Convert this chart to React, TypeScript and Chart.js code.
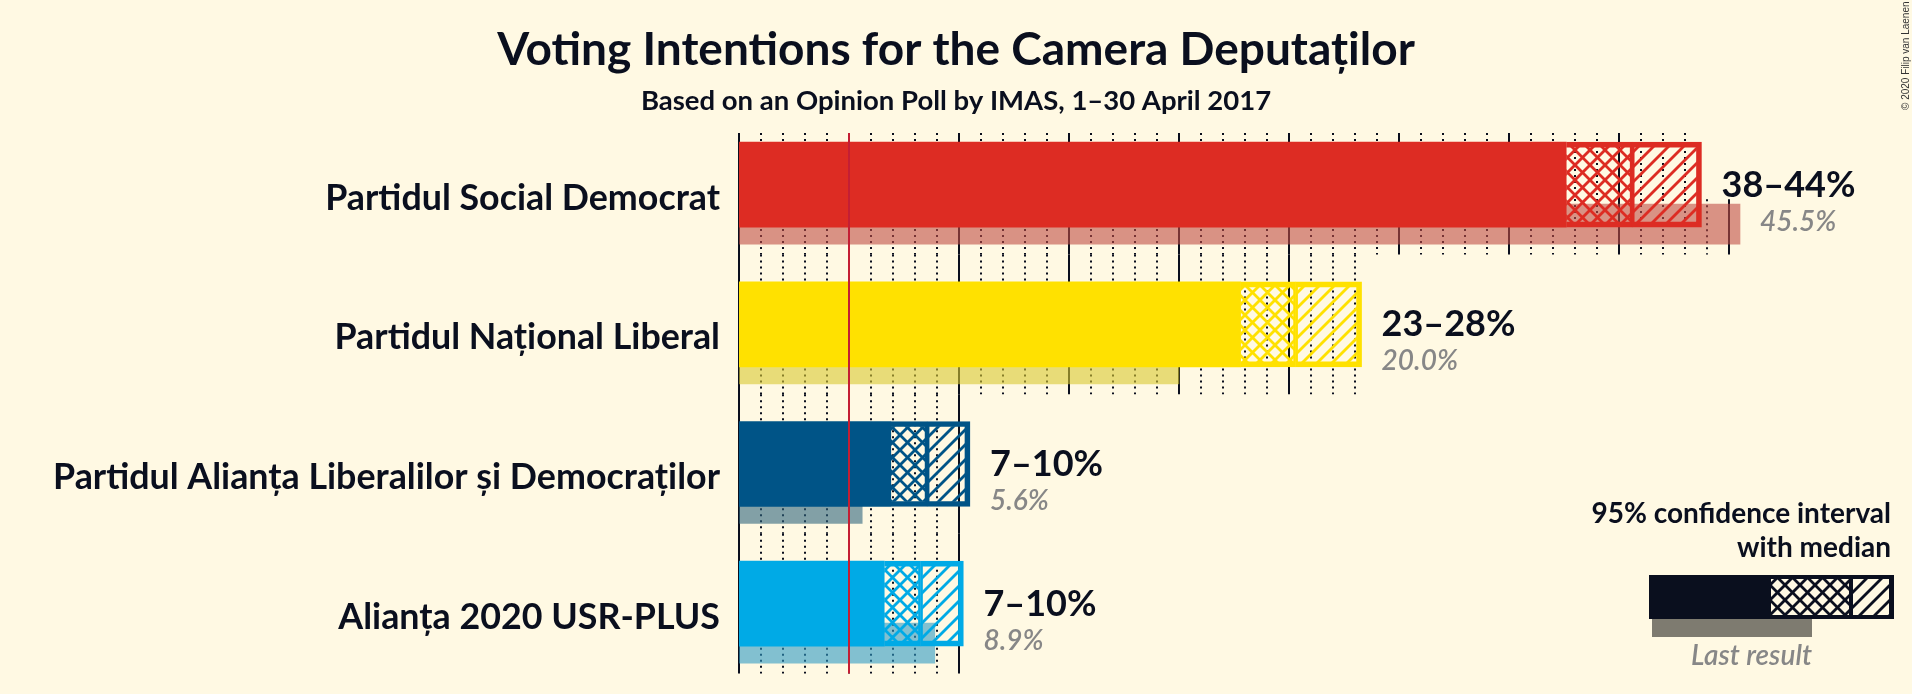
import React, { useEffect, useRef } from 'react';
import { Chart, registerables } from 'chart.js';

Chart.register(...registerables);

// ---------- data ----------
const parties = [
  'Partidul Social Democrat',
  'Partidul Național Liberal',
  'Partidul Alianța Liberalilor și Democraților',
  'Alianța 2020 USR-PLUS',
];
const ciLow = [37.6, 22.8, 6.9, 6.6];
const median = [40.6, 25.3, 8.55, 8.25];
const ciHigh = [43.75, 28.3, 10.5, 10.2];
const lastResult = [45.5, 20.0, 5.6, 8.9];
const rangeLabels = ['38–44%', '23–28%', '7–10%', '7–10%'];
const lastLabels = ['45.5%', '20.0%', '5.6%', '8.9%'];
const partyColors = ['#DD2C23', '#FFE100', '#005487', '#00AAE6'];
const lastColors = [
  'rgba(192,77,68,0.6)',
  'rgba(217,200,48,0.6)',
  'rgba(47,100,125,0.6)',
  'rgba(47,153,195,0.6)',
];
const threshold = 5;
const xMax = 50;
const titleText = 'Voting Intentions for the Camera Deputaților';
const subtitleText = 'Based on an Opinion Poll by IMAS, 1–30 April 2017';
const legendTitle = ['95% confidence interval', 'with median'];
const legendLast = 'Last result';
const copyright = '© 2020 Filip van Laenen';

// ---------- style ----------
const BG = '#FFF9E3';
const INK = '#0A0F1E';
const GREY_TEXT = '#878787';
const FONT = 'Lato, "Noto Sans", sans-serif';
const MAIN_THICK = 85;
const LAST_THICK = 40;
const LAST_OFFSET = 0.283;

function makePattern(color: string, cross: boolean): CanvasPattern | string {
  const s = 15;
  const c = document.createElement('canvas');
  c.width = s;
  c.height = s;
  const g = c.getContext('2d');
  if (!g) return color;
  g.strokeStyle = color;
  g.lineWidth = 2.8;
  g.lineCap = 'square';
  for (const k of [0, s, 2 * s]) {
    g.beginPath();
    g.moveTo(-5, k + 5);
    g.lineTo(k + 5, -5);
    g.stroke();
  }
  if (cross) {
    for (const k of [-s, 0, s]) {
      g.beginPath();
      g.moveTo(-5, -5 - k);
      g.lineTo(s + 5, s + 5 - k);
      g.stroke();
    }
  }
  const p = g.createPattern(c, 'repeat');
  return p || color;
}

export default function App() {
  const ref = useRef<HTMLCanvasElement | null>(null);

  useEffect(() => {
    const canvas = ref.current;
    if (!canvas) return;
    const rows = parties.map((_, i) => i);
    const crossPatterns = partyColors.map((c) => makePattern(c, true));
    const diagPatterns = partyColors.map((c) => makePattern(c, false));
    const legendCross = makePattern(INK, true);
    const legendDiag = makePattern(INK, false);

    const bgPlugin = {
      id: 'bg',
      beforeDraw(chart: any) {
        const { ctx, width, height } = chart;
        ctx.save();
        ctx.fillStyle = BG;
        ctx.fillRect(0, 0, width, height);
        ctx.restore();
      },
    };

    const gridPlugin = {
      id: 'rowGrid',
      beforeDatasetsDraw(chart: any) {
        const { ctx, chartArea } = chart;
        const xs = chart.scales.x;
        const ys = chart.scales.y;
        ctx.save();
        ctx.strokeStyle = INK;
        ctx.lineWidth = 2;
        const line = (p: number, y0: number, y1: number) => {
          const px = Math.round(xs.getPixelForValue(p));
          ctx.setLineDash(p % 5 === 0 ? [] : [2, 4]);
          ctx.beginPath();
          ctx.moveTo(px, y0);
          ctx.lineTo(px, y1);
          ctx.stroke();
        };
        rows.forEach((i) => {
          const top = Math.max(chartArea.top, ys.getPixelForValue(i - 0.5));
          const bottom = Math.min(chartArea.bottom, ys.getPixelForValue(i + 0.5));
          const lastTop = ys.getPixelForValue(i + LAST_OFFSET) - LAST_THICK / 2 - 5;
          const hiInt = Math.floor(ciHigh[i]);
          const lastInt = Math.floor(lastResult[i]);
          for (let p = 1; p <= Math.max(hiInt, lastInt); p++) {
            line(p, p <= hiInt ? top : lastTop, bottom);
          }
        });
        line(0, chartArea.top, chartArea.bottom);
        ctx.restore();
      },
    };

    const overlayPlugin = {
      id: 'overlay',
      afterDatasetsDraw(chart: any) {
        const { ctx, chartArea } = chart;
        const xs = chart.scales.x;
        const ys = chart.scales.y;
        ctx.save();
        // threshold line
        const tx = Math.round(xs.getPixelForValue(threshold));
        ctx.strokeStyle = '#C41E34';
        ctx.lineWidth = 2;
        ctx.beginPath();
        ctx.moveTo(tx, chartArea.top);
        ctx.lineTo(tx, chartArea.bottom);
        ctx.stroke();

        rows.forEach((i) => {
          const cy = ys.getPixelForValue(i);
          // party name
          ctx.fillStyle = INK;
          ctx.font = `bold 35.8px ${FONT}`;
          ctx.textAlign = 'right';
          ctx.textBaseline = 'alphabetic';
          ctx.fillText(parties[i], chartArea.left - 19, cy + 25);
          // range label
          const hx = xs.getPixelForValue(ciHigh[i]);
          const lx = xs.getPixelForValue(lastResult[i]);
          ctx.textAlign = 'left';
          ctx.font = `bold 36px ${FONT}`;
          ctx.fillText(rangeLabels[i], hx + 20, cy + 12);
          ctx.fillStyle = GREY_TEXT;
          ctx.font = `italic 600 28px ${FONT}`;
          ctx.fillText(lastLabels[i], Math.max(hx, lx) + 20, cy + 46);
        });
        ctx.restore();
      },
      afterDraw(chart: any) {
        const { ctx, width } = chart;
        ctx.save();
        // titles
        ctx.fillStyle = INK;
        ctx.textAlign = 'center';
        ctx.textBaseline = 'alphabetic';
        ctx.font = `bold 46px ${FONT}`;
        ctx.fillText(titleText, width / 2, 65);
        ctx.font = `bold 27.5px ${FONT}`;
        ctx.fillText(subtitleText, width / 2, 110);

        // legend
        ctx.textAlign = 'right';
        ctx.font = `bold 28px ${FONT}`;
        ctx.fillText(legendTitle[0], 1891, 523);
        ctx.fillText(legendTitle[1], 1891, 557);
        const lt = 575, lb = 619;
        ctx.fillStyle = INK;
        ctx.fillRect(1649, lt, 1771 - 1649, lb - lt);
        ctx.fillStyle = legendCross as any;
        ctx.fillRect(1771, lt, 1851 - 1771, lb - lt);
        ctx.fillStyle = legendDiag as any;
        ctx.fillRect(1851, lt, 1894 - 1851, lb - lt);
        ctx.fillStyle = INK;
        ctx.fillRect(1771, lt, 1894 - 1771, 4);
        ctx.fillRect(1771, lb - 4, 1894 - 1771, 4);
        ctx.fillRect(1889, lt, 5, lb - lt);
        ctx.fillRect(1849, lt, 4, lb - lt);
        ctx.fillStyle = '#7E7B70';
        ctx.fillRect(1652, lb, 1812 - 1652, 18);
        ctx.fillStyle = GREY_TEXT;
        ctx.font = `italic 600 28px ${FONT}`;
        ctx.fillText(legendLast, 1812, 665);

        // copyright
        ctx.translate(1909, 110);
        ctx.rotate(-Math.PI / 2);
        ctx.textAlign = 'left';
        ctx.fillStyle = '#333333';
        ctx.font = '10px "Liberation Sans", Arial, sans-serif';
        ctx.fillText(copyright, 0, 0);
        ctx.restore();
      },
    };

    const common = { grouped: false, borderSkipped: false as any };

    const chart = new Chart(canvas, {
      type: 'bar',
      data: {
        datasets: [
          {
            label: 'Last result',
            data: rows.map((i) => ({ x: lastResult[i], y: i + LAST_OFFSET })) as any,
            backgroundColor: lastColors,
            barThickness: LAST_THICK,
            order: 4,
            ...common,
          },
          {
            label: 'Below confidence interval',
            data: rows.map((i) => ({ x: ciLow[i], y: i })) as any,
            backgroundColor: partyColors,
            barThickness: MAIN_THICK,
            order: 3,
            ...common,
          },
          {
            label: 'CI low to median',
            data: rows.map((i) => ({ x: [ciLow[i], median[i]], y: i })) as any,
            backgroundColor: crossPatterns as any,
            borderColor: partyColors,
            borderWidth: { top: 5, bottom: 5, left: 0, right: 2 } as any,
            barThickness: MAIN_THICK,
            order: 2,
            ...common,
          },
          {
            label: 'Median to CI high',
            data: rows.map((i) => ({ x: [median[i], ciHigh[i]], y: i })) as any,
            backgroundColor: diagPatterns as any,
            borderColor: partyColors,
            borderWidth: { top: 5, bottom: 5, left: 2, right: 5 } as any,
            barThickness: MAIN_THICK,
            order: 1,
            ...common,
          },
        ],
      },
      options: {
        indexAxis: 'y',
        animation: false,
        responsive: false,
        devicePixelRatio: 1,
        events: [],
        layout: { padding: { left: 739, right: 1912 - 739 - xMax * 22, top: 133, bottom: 20.5 } },
        scales: {
          x: { type: 'linear', min: 0, max: xMax, bounds: 'data', offset: false, display: false, grid: { offset: false } },
          y: {
            type: 'linear',
            min: -0.37,
            max: 3.5,
            bounds: 'data',
            offset: false,
            reverse: true,
            display: false,
            grid: { offset: false },
          },
        },
        plugins: {
          legend: { display: false },
          tooltip: { enabled: false },
          title: { display: false },
        },
      },
      plugins: [bgPlugin, gridPlugin, overlayPlugin],
    });
    return () => chart.destroy();
  }, []);

  return (
    <div style={{ position: 'fixed', left: 0, top: 0, width: 1912, height: 694, background: BG }}>
      <canvas ref={ref} width={1912} height={694} style={{ display: 'block', width: 1912, height: 694 }} />
    </div>
  );
}
